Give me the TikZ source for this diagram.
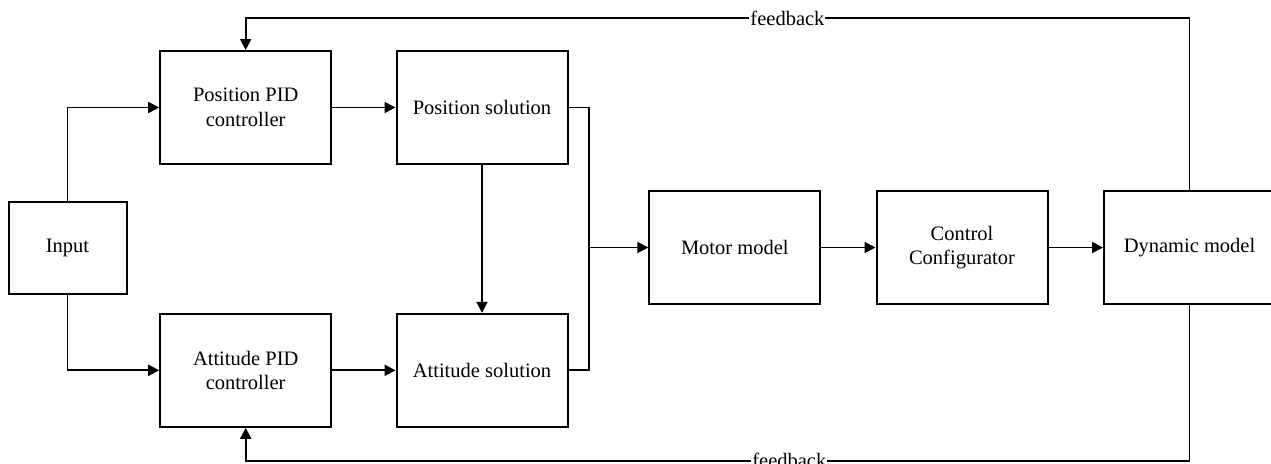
\documentclass[tikz,border=0pt]{standalone}
\usepackage{fontspec}
\setmainfont{Liberation Serif}
\usetikzlibrary{arrows.meta}
\begin{document}
\begin{tikzpicture}[x=1pt,y=-1pt,
  block/.style={draw, line width=2pt, minimum width=171pt, minimum height=113pt,
    align=center, inner sep=0pt, font=\fontsize{20.5}{24.6}\selectfont},
  wire/.style={line width=1.9pt},
  arr/.style={wire, -{Triangle[length=11pt,width=11pt]}},
  fblabel/.style={fill=white, inner sep=1pt, font=\fontsize{20.5}{24.6}\selectfont}]
\clip (0,0) rectangle (1271,463);

% blocks
\node[block, minimum width=118pt, minimum height=92pt] (input) at (67.5,247.5) {Input};
\node[block] (ppid) at (245.7,107.5) {Position PID\\controller};
\node[block] (psol) at (482,107.5) {Position solution};
\node[block] (apid) at (245.7,370.3) {Attitude PID\\controller};
\node[block] (asol) at (482,370.3) {Attitude solution};
\node[block] (motor) at (734.8,247.5) {Motor model};
\node[block] (conf) at (962,247.5) {Control\\Configurator};
\node[block] (dyn) at (1189.5,247.5) {Dynamic model};

% routing points
\coordinate (bus) at (589,247.5);
\coordinate (fbtop) at (1189.5,18);
\coordinate (fbbot) at (1189.5,460.7);

% forward path
\draw[arr] (input.north) |- (ppid.west);
\draw[arr] (input.south) |- (apid.west);
\draw[arr] (ppid) -- (psol);
\draw[arr] (apid) -- (asol);
\draw[arr] (psol) -- (asol);
\draw[wire] (psol.east) -| (bus) |- (asol.east);
\draw[arr] (bus) -- (motor.west);
\draw[arr] (motor) -- (conf);
\draw[arr] (conf) -- (dyn);

% feedback loops
\draw[arr] (dyn.north) -- (fbtop) -| (ppid.north)
  node[pos=0.213, fblabel] {feedback};
\draw[arr] (dyn.south) -- (fbbot) -| (apid.south)
  node[pos=0.212, fblabel] {feedback};
\end{tikzpicture}
\end{document}
